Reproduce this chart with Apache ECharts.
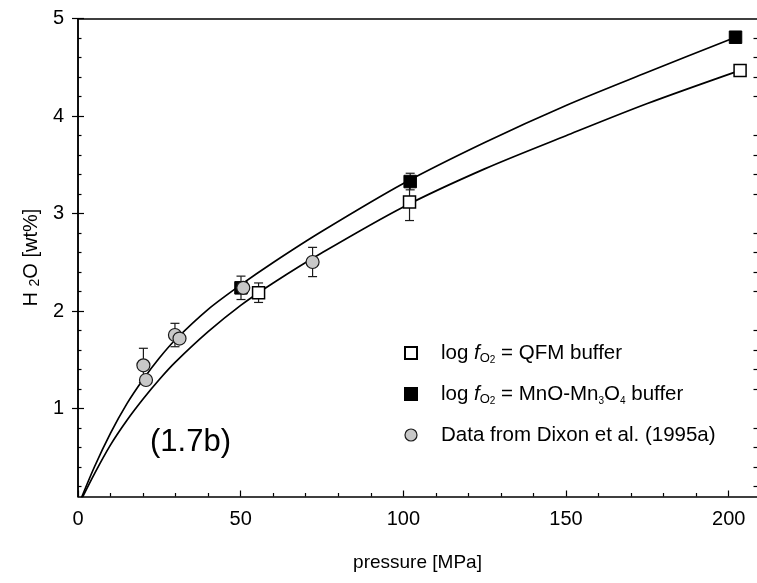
<!DOCTYPE html>
<html>
<head>
<meta charset="utf-8">
<script src="https://cdn.jsdelivr.net/npm/echarts@6/dist/echarts.min.js"></script>
<style>
  html, body { margin: 0; padding: 0; background: #fff; }
  #chart { width: 757px; height: 583px; }
</style>
</head>
<body>
<div id="chart"></div>
<script>
// Measured water contents: [pressure MPa, H2O wt%, error]
const qfmPoints = [[55.5, 2.19, 0.10], [101.9, 3.12, 0.19], [203.5, 4.47, 0]];
const mnoPoints = [[50.1, 2.24, 0.12], [102.1, 3.33, 0.085], [202.1, 4.81, 0.05]];
const dixonPoints = [
  [20.1, 1.445, 0.175], [20.9, 1.295, 0.03], [29.8, 1.756, 0.12],
  [31.2, 1.72, 0], [50.8, 2.24, 0], [72.1, 2.505, 0.15]
];

// Solubility curves: [pressure MPa, H2O wt%]
const mnoCurve = [
  [0, 0], [5, 0.4], [10, 0.75], [15, 1.05], [20, 1.3], [25, 1.52], [30, 1.71],
  [40, 2.02], [50, 2.27], [60, 2.5], [75, 2.82], [100, 3.31], [125, 3.73],
  [150, 4.11], [175, 4.45], [202.1, 4.81]
];
const qfmCurve = [
  [0, 0], [5, 0.33], [10, 0.63], [15, 0.88], [20, 1.1], [25, 1.3], [30, 1.48],
  [40, 1.79], [50, 2.06], [60, 2.29], [75, 2.6], [100, 3.07], [125, 3.46],
  [150, 3.8], [175, 4.13], [203.5, 4.47]
];

// Axis ticks
const xMajorTicks = [0, 50, 100, 150, 200];
const xMinorTicks = [10, 20, 30, 40, 60, 70, 80, 90, 110, 120, 130, 140, 160, 170, 180, 190];
const yMajorTicks = [1, 2, 3, 4, 5];
const yMinorTicks = [0.2, 0.4, 0.6, 0.8, 1.2, 1.4, 1.6, 1.8, 2.2, 2.4, 2.6, 2.8,
                     3.2, 3.4, 3.6, 3.8, 4.2, 4.4, 4.6, 4.8];

const xMin = 0, xMax = 208.7, yMin = 0.1, yMax = 5;
const FONT = 'Liberation Sans, Arial, sans-serif';

const legendNames = {
  qfm: 'QFM',
  mno: 'MnO',
  dixon: 'Dixon'
};

const chart = echarts.init(document.getElementById('chart'), null, { renderer: 'canvas' });

function errorBars(points) {
  return {
    type: 'custom',
    z: 1,
    silent: true,
    data: points.filter(p => p[2] > 0),
    encode: { x: 0, y: 1 },
    renderItem(params, api) {
      const x = api.value(0), y = api.value(1), e = api.value(2);
      const top = api.coord([x, y + e]);
      const bot = api.coord([x, y - e]);
      const hw = 4.5;
      const st = { stroke: '#1a1a1a', lineWidth: 1.2 };
      return {
        type: 'group',
        children: [
          { type: 'line', shape: { x1: top[0], y1: top[1], x2: bot[0], y2: bot[1] }, style: st },
          { type: 'line', shape: { x1: top[0] - hw, y1: top[1], x2: top[0] + hw, y2: top[1] }, style: st },
          { type: 'line', shape: { x1: bot[0] - hw, y1: bot[1], x2: bot[0] + hw, y2: bot[1] }, style: st }
        ]
      };
    }
  };
}

function hiddenAxisBase(extra) {
  return Object.assign({
    type: 'value',
    axisLabel: { show: false },
    splitLine: { show: false },
    axisLine: { show: false }
  }, extra);
}

const axisLineStyle = { color: '#000', width: 1.5 };
const tickStyle = { color: '#000', width: 1.2 };

const option = {
  animation: false,
  backgroundColor: '#fff',
  grid: { left: 78, top: 18.7, width: 680, bottom: 86.5, containLabel: false },
  xAxis: [
    {
      type: 'value', min: xMin, max: xMax, position: 'bottom',
      name: 'pressure [MPa]', nameLocation: 'middle', nameGap: 57,
      nameTextStyle: { fontFamily: FONT, fontSize: 19, color: '#000' },
      axisLine: { show: true, lineStyle: axisLineStyle },
      axisTick: { show: true, inside: true, length: 6, customValues: xMajorTicks, lineStyle: tickStyle },
      axisLabel: { show: true, customValues: xMajorTicks, margin: 13, fontFamily: FONT, fontSize: 20, color: '#000' },
      splitLine: { show: false }
    },
    hiddenAxisBase({
      min: xMin, max: xMax, position: 'bottom',
      axisTick: { show: true, inside: true, length: 3.5, customValues: xMinorTicks, lineStyle: tickStyle }
    }),
    hiddenAxisBase({
      min: xMin, max: xMax, position: 'top',
      axisLine: { show: true, lineStyle: axisLineStyle },
      axisTick: { show: false }
    })
  ],
  yAxis: [
    {
      type: 'value', min: yMin, max: yMax, position: 'left',
      name: 'H {s|2}O [wt%]', nameLocation: 'middle', nameGap: 32, nameRotate: 90,
      nameTextStyle: {
        fontFamily: FONT, fontSize: 20, color: '#000',
        rich: { s: { fontFamily: FONT, fontSize: 14, color: '#000', verticalAlign: 'bottom', lineHeight: 15 } }
      },
      axisLine: { show: true, lineStyle: axisLineStyle },
      axisTick: { show: true, inside: true, length: 6, customValues: yMajorTicks, lineStyle: tickStyle },
      axisLabel: { show: true, customValues: yMajorTicks, margin: 14, fontFamily: FONT, fontSize: 20, color: '#000' },
      splitLine: { show: false }
    },
    hiddenAxisBase({
      min: yMin, max: yMax, position: 'left',
      axisTick: { show: true, inside: true, length: 3.5, customValues: yMinorTicks, lineStyle: tickStyle }
    }),
    hiddenAxisBase({
      min: yMin, max: yMax, position: 'right',
      axisLine: { show: true, lineStyle: axisLineStyle },
      axisTick: { show: true, inside: true, length: 6, customValues: yMajorTicks, lineStyle: tickStyle }
    }),
    hiddenAxisBase({
      min: yMin, max: yMax, position: 'right',
      axisTick: { show: true, inside: true, length: 3.5, customValues: yMinorTicks, lineStyle: tickStyle }
    })
  ],
  legend: {
    orient: 'vertical',
    left: 399, top: 336,
    itemWidth: 12, itemHeight: 12, itemGap: 17,
    selectedMode: false,
    data: [
      { name: legendNames.qfm, icon: 'rect' },
      { name: legendNames.mno, icon: 'rect' },
      { name: legendNames.dixon, icon: 'circle', itemStyle: { borderWidth: 1.2 } }
    ],
    formatter(name) {
      if (name === legendNames.qfm) return 'log {i|f}{o|O}{n|2} = QFM buffer';
      if (name === legendNames.mno) return 'log {i|f}{o|O}{n|2} = MnO-Mn{n|3}O{n|4} buffer';
      return 'Data from Dixon et al. (1995a)';
    },
    textStyle: {
      fontFamily: FONT, fontSize: 20.5, color: '#000', padding: [0, 0, 0, 19], lineHeight: 24,
      rich: {
        i: { fontFamily: FONT, fontSize: 20.5, fontStyle: 'italic', color: '#000', lineHeight: 24 },
        o: { fontFamily: FONT, fontSize: 13, color: '#000', verticalAlign: 'bottom', lineHeight: 17 },
        n: { fontFamily: FONT, fontSize: 10, color: '#000', verticalAlign: 'bottom', lineHeight: 13 }
      }
    }
  },
  graphic: [
    {
      type: 'text', left: 150, top: 427,
      style: { text: '(1.7b)', fontFamily: FONT, fontSize: 31, fill: '#000' }
    }
  ],
  series: [
    {
      type: 'line', data: mnoCurve, smooth: 0.3, showSymbol: false, silent: true, z: 0,
      lineStyle: { color: '#000', width: 1.7 }, clip: true
    },
    {
      type: 'line', data: qfmCurve, smooth: 0.3, showSymbol: false, silent: true, z: 0,
      lineStyle: { color: '#000', width: 1.7 }, clip: true
    },
    errorBars(mnoPoints),
    errorBars(qfmPoints),
    errorBars(dixonPoints),
    {
      name: legendNames.qfm, type: 'scatter', symbol: 'rect', symbolSize: 12, z: 3,
      data: qfmPoints.map(p => [p[0], p[1]]),
      itemStyle: { color: '#fff', borderColor: '#000', borderWidth: 1.5, opacity: 1 }
    },
    {
      name: legendNames.mno, type: 'scatter', symbol: 'rect', symbolSize: 12.5, z: 3,
      data: mnoPoints.map(p => [p[0], p[1]]),
      itemStyle: { color: '#000', borderColor: '#000', borderWidth: 1, opacity: 1 }
    },
    {
      name: legendNames.dixon, type: 'scatter', symbol: 'circle', symbolSize: 13, z: 4,
      data: dixonPoints.map(p => [p[0], p[1]]),
      itemStyle: { color: '#c8c8c8', borderColor: '#1a1a1a', borderWidth: 1.2, opacity: 1 }
    }
  ]
};

chart.setOption(option);
</script>
</body>
</html>
